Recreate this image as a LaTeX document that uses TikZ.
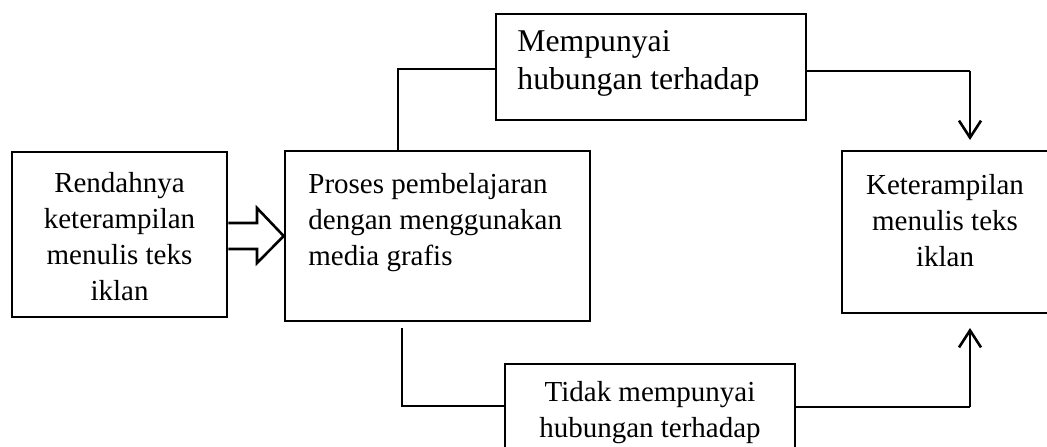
\documentclass[tikz,border=0pt]{standalone}
\usepackage{fontspec}
\setmainfont{Liberation Serif}
\usetikzlibrary{arrows.meta}
\begin{document}
\begin{tikzpicture}[x=0.5pt,y=-0.5pt,
  box/.style={draw,line width=1.3pt,inner sep=0pt},
  txt/.style={inner sep=0pt,font=\fontsize{14.5}{18}\selectfont},
  bigtxt/.style={inner sep=0pt,font=\fontsize{15.85}{18.8}\selectfont},
  thinline/.style={line width=0.6pt},
  headline/.style={line width=1.3pt,-{Straight Barb[length=8.5pt,width=11pt]}},
  bigarrow/.style={draw,line width=1.3pt,line join=miter}]
\useasboundingbox (0,0) rectangle (1047,446);
% boxes
\node[box,minimum width=107.5pt,minimum height=82.5pt] (b1) at (119.5,234.5) {};
\node[box,minimum width=152.5pt,minimum height=85pt] (b2) at (437.5,236) {};
\node[box,minimum width=110pt,minimum height=81pt] (b3) at (952,232) {};
\node[box,minimum width=155pt,minimum height=53pt] (bt) at (651,67) {};
\node[box,minimum width=145pt,minimum height=49pt] (bb) at (650,413) {};
% texts
\node[txt,align=center] (t1) at (119.5,236.5) {Rendahnya\\keterampilan\\menulis teks\\iklan};
\node[txt,align=left,anchor=west] (t2) at (308,223) {Proses pembelajaran\\dengan menggunakan\\media grafis};
\node[txt,align=center] (t3) at (945,221) {Keterampilan\\menulis teks\\iklan};
\node[bigtxt,align=left,anchor=west] (tt) at (517,63.5) {Mempunyai\\hubungan terhadap};
\node[txt,align=center] (tb) at (650,412.5) {Tidak mempunyai\\hubungan terhadap};
% coordinates
\coordinate (u1) at (398,151);
\coordinate (u2) at (398,69);
\coordinate (r1) at (970,71);
\coordinate (r2) at (970,140);
\coordinate (d1) at (402,328);
\coordinate (d2) at (402,406);
\coordinate (s1) at (970,407);
\coordinate (s2) at (970,328);
% connectors
\draw[thinline] (u1) -- (u2) -- (bt.west |- u2);
\draw[thinline] (bt.east |- r1) -- (r1);
\draw[headline] (r1) -- (r2);
\draw[thinline] (d1) -- (d2) -- (bb.west |- d2);
\draw[thinline] (bb.east |- s1) -- (s1);
\draw[headline] (s1) -- (s2);
% block arrow
\draw[bigarrow] (b1.east |- 0,223) -- (257,223) -- (257,208) -- (b2.west |- 0,236) -- (257,263) -- (257,249) -- (b1.east |- 0,249);
\end{tikzpicture}
\end{document}
